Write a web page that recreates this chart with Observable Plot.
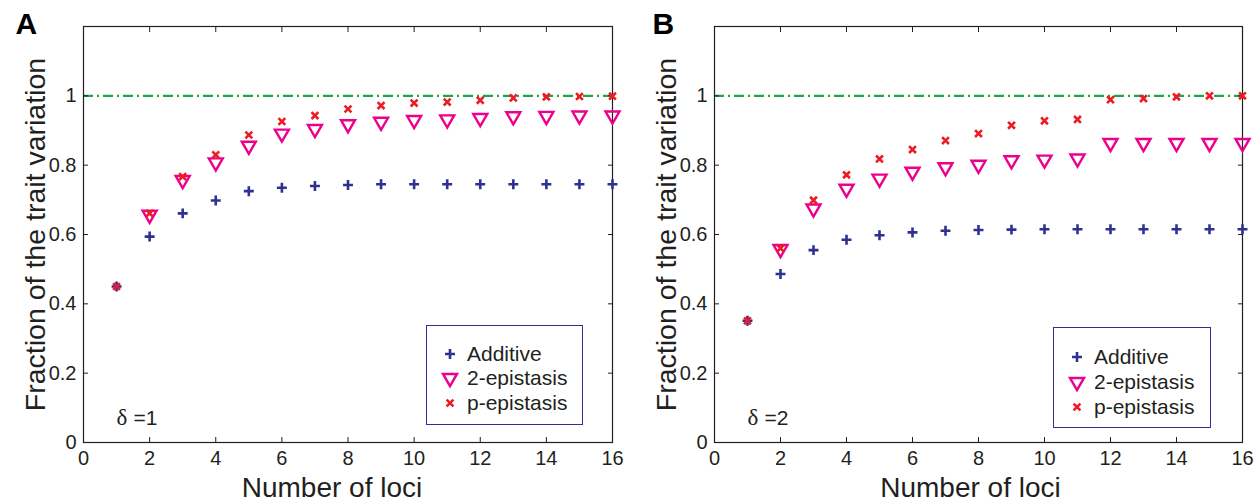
<!DOCTYPE html>
<html>
<head>
<meta charset="utf-8">
<script src="https://cdn.jsdelivr.net/npm/d3@7"></script>
<script src="https://cdn.jsdelivr.net/npm/@observablehq/plot@0.6"></script>
<style>
  html, body { margin: 0; padding: 0; background: #fff; }
  #wrap { position: relative; width: 1258px; height: 501px; overflow: hidden; font-family: "Liberation Sans", Arial, sans-serif; }
  .panel { position: absolute; top: 0; }
  .legend { position: absolute; box-sizing: border-box; border: 1.3px solid #2e3192; background: #fff; }
  .legend svg { display: block; }
</style>
</head>
<body>
<div id="wrap"></div>
<script>
// ---------- data ----------
const loci = [1, 2, 3, 4, 5, 6, 7, 8, 9, 10, 11, 12, 13, 14, 15, 16];

const additiveA = [0.450, 0.594, 0.661, 0.698, 0.725, 0.735, 0.740, 0.743, 0.745, 0.745, 0.745, 0.745, 0.745, 0.745, 0.745, 0.745];
const epi2A     = [null, 0.657, 0.757, 0.808, 0.856, 0.891, 0.904, 0.918, 0.925, 0.930, 0.932, 0.936, 0.941, 0.942, 0.943, 0.943];
const epiPA     = [0.450, 0.661, 0.767, 0.830, 0.887, 0.926, 0.943, 0.962, 0.972, 0.979, 0.982, 0.987, 0.994, 0.997, 0.998, 0.999];

const additiveB = [0.351, 0.486, 0.555, 0.585, 0.598, 0.606, 0.611, 0.613, 0.614, 0.615, 0.615, 0.615, 0.615, 0.615, 0.615, 0.615];
const epi2B     = [null, 0.558, 0.675, 0.732, 0.761, 0.781, 0.794, 0.801, 0.814, 0.816, 0.819, 0.864, 0.864, 0.864, 0.864, 0.864];
const epiPB     = [0.351, 0.560, 0.699, 0.772, 0.818, 0.845, 0.871, 0.891, 0.915, 0.928, 0.932, 0.989, 0.992, 0.997, 1.000, 1.000];

const referenceLevel = [1];
const xTicks = [0, 2, 4, 6, 8, 10, 12, 14, 16];
const yTicks = [0, 0.2, 0.4, 0.6, 0.8, 1];
const yTickLabels = ["0", "0.2", "0.4", "0.6", "0.8", "1"];
const seriesNames = ["Additive", "2-epistasis", "p-epistasis"];
const panelLetters = ["A", "B"];
const deltaLabels = ["=1", "=2"];
const xTitle = "Number of loci";
const yTitle = "Fraction of the trait variation";

// ---------- styles ----------
const NAVY = "#2e3192", MAGENTA = "#ec008c", RED = "#ed1c24", GREEN = "#1fa64a", INK = "#231f20";
const FONT = "Liberation Sans, Arial, Helvetica, sans-serif";

const triangleDown = {
  draw(ctx, size) {
    const y = Math.sqrt(size / (Math.sqrt(3) * 3));
    const s3 = Math.sqrt(3);
    ctx.moveTo(0, 2 * y);
    ctx.lineTo(-s3 * y, -y);
    ctx.lineTo(s3 * y, -y);
    ctx.closePath();
  }
};

function rows(vals) {
  return loci.map((x, i) => ({x, y: vals[i]})).filter(d => d.y != null);
}

function panel(opts) {
  const {add, e2, ep, letter, delta, width, mL, mR, xlabDx, letterDx} = opts;
  const yFmt = d => yTickLabels[yTicks.findIndex(t => Math.abs(t - d) < 1e-9)];
  return Plot.plot({
    width, height: 501,
    marginLeft: mL, marginRight: mR, marginTop: 26, marginBottom: 59,
    x: {domain: [0, 16]},
    y: {domain: [0, 1.2]},
    style: {fontFamily: FONT, fontSize: "20px", color: INK, background: "white", overflow: "visible"},
    marks: [
      Plot.ruleY(referenceLevel, {stroke: GREEN, strokeWidth: 2.2, strokeDasharray: "10,4,2,4"}),
      Plot.frame({stroke: INK, strokeWidth: 1.2}),
      Plot.axisX({anchor: "bottom", ticks: xTicks, tickSize: -5, tickPadding: 13, label: null, fontSize: 20, stroke: INK}),
      Plot.axisX({anchor: "top", ticks: xTicks, tickSize: -5, tickFormat: () => "", label: null, stroke: INK}),
      Plot.axisY({anchor: "left", ticks: yTicks, tickSize: -5, tickPadding: 12, tickFormat: yFmt, label: null, fontSize: 20, stroke: INK}),
      Plot.axisY({anchor: "right", ticks: yTicks, tickSize: -5, tickFormat: () => "", label: null, stroke: INK}),
      Plot.dot(rows(add), {x: "x", y: "y", symbol: "plus", r: 3.3, stroke: NAVY, strokeWidth: 2.6}),
      Plot.dot(rows(e2), {x: "x", y: "y", symbol: triangleDown, r: 5.2, stroke: MAGENTA, strokeWidth: 2.4, fill: "none"}),
      Plot.dot(rows(ep), {x: "x", y: "y", symbol: "times", r: 3.2, stroke: RED, strokeWidth: 2.6}),
      Plot.text([letter], {frameAnchor: "top-left", dx: letterDx, dy: 7, lineAnchor: "bottom", textAnchor: "start", fontSize: 30, fontWeight: "bold", fill: "#000"}),
      Plot.text([xTitle], {frameAnchor: "bottom", dx: xlabDx, dy: 54, lineAnchor: "bottom", textAnchor: "middle", fontSize: 28, fill: INK}),
      Plot.text([yTitle], {frameAnchor: "left", dx: -48, rotate: -90, textAnchor: "middle", lineAnchor: "middle", fontSize: 28.5, fill: INK}),
      Plot.text(["δ"], {frameAnchor: "bottom-left", dx: 33, dy: -18, lineAnchor: "bottom", textAnchor: "start", fontSize: 23, fontFamily: "Liberation Serif, Times New Roman, serif", fill: INK}),
      Plot.text([delta], {frameAnchor: "bottom-left", dx: 50, dy: -18, lineAnchor: "bottom", textAnchor: "start", fontSize: 21, fill: INK})
    ]
  });
}

function legend(left, top, w, h, rowY) {
  const div = document.createElement("div");
  div.className = "legend";
  Object.assign(div.style, {left: left + "px", top: top + "px", width: w + "px", height: h + "px"});
  const svg = d3.create("svg").attr("width", w - 2.6).attr("height", h - 2.6);
  const syms = [
    {type: d3.symbolPlus, size: Math.PI * 3.3 * 3.3, stroke: NAVY, sw: 2.6},
    {type: triangleDown, size: Math.PI * 5.2 * 5.2, stroke: MAGENTA, sw: 2.4},
    {type: d3.symbolTimes, size: Math.PI * 3.2 * 3.2, stroke: RED, sw: 2.6}
  ];
  seriesNames.forEach((name, i) => {
    svg.append("path")
      .attr("transform", `translate(23,${rowY[i]})`)
      .attr("d", d3.symbol(syms[i].type, syms[i].size)())
      .attr("fill", "none").attr("stroke", syms[i].stroke).attr("stroke-width", syms[i].sw);
    svg.append("text")
      .attr("x", 40).attr("y", rowY[i]).attr("dy", "0.35em")
      .attr("font-family", FONT).attr("font-size", 21).attr("fill", INK)
      .text(name);
  });
  div.appendChild(svg.node());
  return div;
}

const wrap = document.getElementById("wrap");

const pA = document.createElement("div");
pA.className = "panel"; pA.style.left = "0px";
pA.appendChild(panel({add: additiveA, e2: epi2A, ep: epiPA, letter: panelLetters[0], delta: deltaLabels[0],
  width: 630, mL: 83, mR: 18, xlabDx: -16, letterDx: -68}));
wrap.appendChild(pA);

const pB = document.createElement("div");
pB.className = "panel"; pB.style.left = "630px";
pB.appendChild(panel({add: additiveB, e2: epi2B, ep: epiPB, letter: panelLetters[1], delta: deltaLabels[1],
  width: 628, mL: 84, mR: 16, xlabDx: -8, letterDx: -62}));
wrap.appendChild(pB);

wrap.appendChild(legend(426, 325, 157, 100, [28, 52, 77]));
wrap.appendChild(legend(1053, 327, 158, 101, [29, 54, 79]));
</script>
</body>
</html>
